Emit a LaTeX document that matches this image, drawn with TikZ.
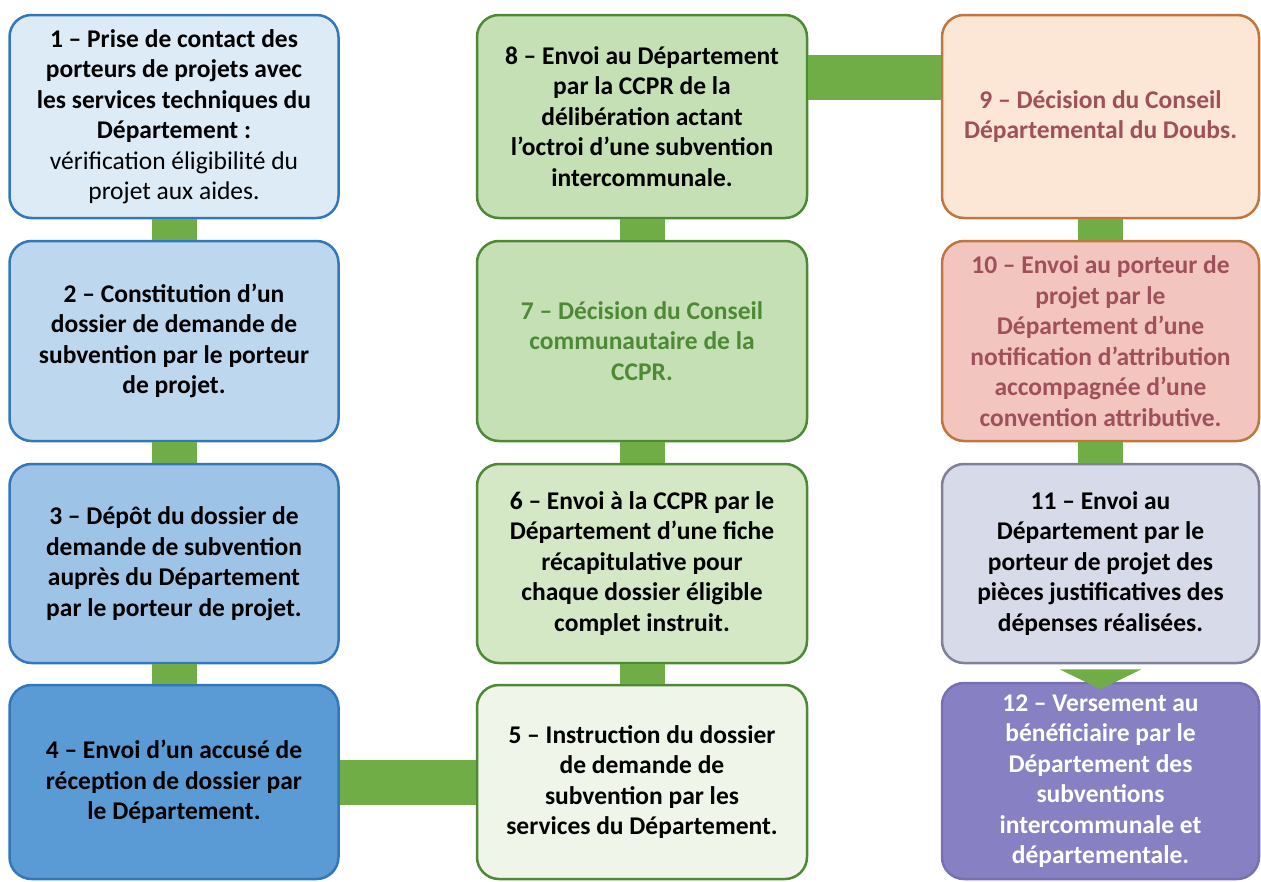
\documentclass[tikz,border=0pt]{standalone}
\usepackage{fontspec}
\setmainfont{Carlito}
\usetikzlibrary{positioning}

% couleurs
\definecolor{barre}{HTML}{70AD47}
\definecolor{bleuBord}{HTML}{3277BC}
\definecolor{bleuA}{HTML}{DDEBF7}
\definecolor{bleuB}{HTML}{BDD7EE}
\definecolor{bleuC}{HTML}{9DC3E6}
\definecolor{bleuD}{HTML}{5B9BD5}
\definecolor{vertBord}{HTML}{4E8A36}
\definecolor{vertA}{HTML}{C5E0B4}
\definecolor{vertB}{HTML}{D5E8C6}
\definecolor{vertC}{HTML}{EFF6E9}
\definecolor{brunBord}{HTML}{C0773F}
\definecolor{peche}{HTML}{FCE6D6}
\definecolor{rose}{HTML}{F2C6BF}
\definecolor{texteBrun}{HTML}{A0505A}
\definecolor{grisBord}{HTML}{7F8198}
\definecolor{gris}{HTML}{D7DAE8}
\definecolor{violet}{HTML}{8781C4}
\definecolor{violetBord}{HTML}{7770B6}

\tikzset{
	etape/.style={draw, line width=2.5pt, rounded corners=22pt, align=center, inner sep=0pt,
		font=\fontsize{25.5}{30.5}\selectfont\bfseries},
	lien/.style={draw=barre, line width=45pt},
}

\begin{document}
\begin{tikzpicture}[x=1pt,y=-1pt]
	
	% cadre de l'image
	\useasboundingbox (0,0) rectangle (1261,881);
	
	% centres des colonnes et largeurs
	\def\xA{174} % colonne de gauche
	\def\xB{642} % colonne du milieu
	\def\xC{1100.5} % colonne de droite
	\def\lA{329} % largeur colonne gauche
	\def\lB{330} % largeur colonne milieu
	\def\lC{317} % largeur colonne droite
	
	% colonne de gauche : étapes 1 à 4
	\node[etape, fill=bleuA, draw=bleuBord, minimum width=\lA pt, minimum height=203pt] (n1) at (\xA,116.5)
		{1 – Prise de contact des\\porteurs de projets avec\\les services techniques du\\Département :\\\mdseries vérification éligibilité du\\\mdseries projet aux aides.};
	\node[etape, fill=bleuB, draw=bleuBord, minimum width=\lA pt, minimum height=200pt] (n2) at (\xA,341)
		{2 – Constitution d’un\\dossier de demande de\\subvention par le porteur\\de projet.};
	\node[etape, fill=bleuC, draw=bleuBord, minimum width=\lA pt, minimum height=199pt] (n3) at (\xA,563.5)
		{3 – Dépôt du dossier de\\demande de subvention\\auprès du Département\\par le porteur de projet.};
	\node[etape, fill=bleuD, draw=bleuBord, minimum width=\lA pt, minimum height=194pt] (n4) at (\xA,782)
		{4 – Envoi d’un accusé de\\réception de dossier par\\le Département.};
	
	% colonne du milieu : étapes 5 à 8
	\node[etape, fill=vertC, draw=vertBord, minimum width=\lB pt, minimum height=194pt] (n5) at (\xB,782)
		{5 – Instruction du dossier\\de demande de\\subvention par les\\services du Département.};
	\node[etape, fill=vertB, draw=vertBord, minimum width=\lB pt, minimum height=199pt] (n6) at (\xB,563.5)
		{6 – Envoi à la CCPR par le\\Département d’une fiche\\récapitulative pour\\chaque dossier éligible\\complet instruit.};
	\node[etape, fill=vertA, draw=vertBord, text=vertBord, minimum width=\lB pt, minimum height=200pt] (n7) at (\xB,341)
		{7 – Décision du Conseil\\communautaire de la\\CCPR.};
	\node[etape, fill=vertA, draw=vertBord, minimum width=\lB pt, minimum height=203pt] (n8) at (\xB,116.5)
		{8 – Envoi au Département\\par la CCPR de la\\délibération actant\\l’octroi d’une subvention\\intercommunale.};
	
	% colonne de droite : étapes 9 à 12
	\node[etape, fill=peche, draw=brunBord, text=texteBrun, minimum width=\lC pt, minimum height=203pt] (n9) at (\xC,116.5)
		{9 – Décision du Conseil\\Départemental du Doubs.};
	\node[etape, fill=rose, draw=brunBord, text=texteBrun, minimum width=\lC pt, minimum height=200pt] (n10) at (\xC,341)
		{10 – Envoi au porteur de\\projet par le\\Département d’une\\notification d’attribution\\accompagnée d’une\\convention attributive.};
	\node[etape, fill=gris, draw=grisBord, minimum width=\lC pt, minimum height=199pt] (n11) at (\xC,563.5)
		{11 – Envoi au\\Département par le\\porteur de projet des\\pièces justificatives des\\dépenses réalisées.};
	\node[etape, fill=violet, draw=violetBord, text=white, minimum width=\lC pt, minimum height=196pt] (n12) at (\xC,781)
		{12 – Versement au\\bénéficiaire par le\\Département des\\subventions\\intercommunale et\\départementale.};
	
	% liaisons vertes
	\draw[lien] (n1) -- (n2);
	\draw[lien] (n2) -- (n3);
	\draw[lien] (n3) -- (n4);
	\draw[lien] (n4) -- (n5);
	\draw[lien] (n5) -- (n6);
	\draw[lien] (n6) -- (n7);
	\draw[lien] (n7) -- (n8);
	\draw[lien] ([yshift=39pt]n8.east) -- ([yshift=39pt]n9.west);
	\draw[lien] (n9) -- (n10);
	\draw[lien] (n10) -- (n11);
	
	% flèche vers l'étape 12
	\fill[barre] ([xshift=-41pt,yshift=-5pt]n11.south) -- ([xshift=41pt,yshift=-5pt]n11.south) -- ([yshift=-25pt]n11.south) -- cycle;
	
\end{tikzpicture}
\end{document}
